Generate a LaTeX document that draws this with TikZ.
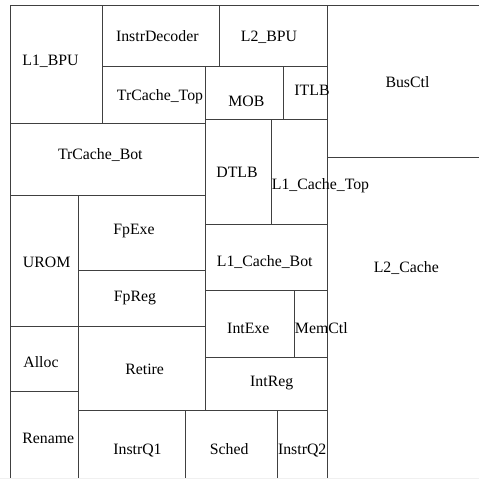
\documentclass[tikz,border=0pt]{standalone}
\usepackage{fontspec}
\setmainfont{Liberation Serif}
\begin{document}
\begin{tikzpicture}[x=1pt,y=-1pt,
  blk/.style={draw=black!75,line width=0.9pt},
  lbl/.style={anchor=base,inner sep=0pt,font=\fontsize{15.8}{18}\selectfont}]
\useasboundingbox (0,0) rectangle (479,479);
\begin{scope}
\clip (0,0) rectangle (479,479);
% blocks
\draw[blk] (10.5,5.5) rectangle (102.7,123);   % L1_BPU
\draw[blk] (102.7,5.5) rectangle (219,66);     % InstrDecoder
\draw[blk] (219,5.5) rectangle (327.7,66);     % L2_BPU
\draw[blk] (102.7,66) rectangle (205.5,123);   % TrCache_Top
\draw[blk] (205.5,66) rectangle (283.3,119.3); % MOB
\draw[blk] (283.3,66) rectangle (327.7,119.3); % ITLB
\draw[blk] (327.7,5.5) rectangle (482,157.3);  % BusCtl
\draw[blk] (10.5,123) rectangle (205.5,195);   % TrCache_Bot
\draw[blk] (205.5,119.3) rectangle (271,224);  % DTLB
\draw[blk] (271,119.3) rectangle (327.7,224);  % L1_Cache_Top
\draw[blk] (327.7,157.3) rectangle (482,482);  % L2_Cache
\draw[blk] (10.5,195) rectangle (78,326);      % UROM
\draw[blk] (78,195) rectangle (205.5,270);     % FpExe
\draw[blk] (78,270) rectangle (205.5,326);     % FpReg
\draw[blk] (205.5,224) rectangle (327.7,290);  % L1_Cache_Bot
\draw[blk] (205.5,290) rectangle (294.3,357.5);% IntExe
\draw[blk] (294.3,290) rectangle (327.7,357.5);% MemCtl
\draw[blk] (205.5,357.5) rectangle (327.7,410);% IntReg
\draw[blk] (10.5,326) rectangle (78,391.7);    % Alloc
\draw[blk] (78,326) rectangle (205.5,410);     % Retire
\draw[blk] (10.5,391.7) rectangle (78,482);    % Rename
\draw[blk] (78,410) rectangle (185.7,482);     % InstrQ1
\draw[blk] (185.7,410) rectangle (277.3,482);  % Sched
\draw[blk] (277.3,410) rectangle (327.7,482);  % InstrQ2
\draw[black!6,line width=1pt] (0,478.3) -- (479,478.3);
\end{scope}
% labels
\node[lbl] (l1bpu) at (50.5,65) {L1\_BPU};
\node[lbl] (idec) at (157.3,41.7) {InstrDecoder};
\node[lbl] (trtop) at (160,100) {TrCache\_Top};
\node[lbl] (trbot) at (100.3,159.3) {TrCache\_Bot};
\node[lbl] (fpexe) at (134,234) {FpExe};
\node[lbl] (l2bpu) at (269,41.7) {L2\_BPU};
\node[lbl] (mob) at (246.3,106.7) {MOB};
\node[lbl] (itlb) at (312,95) {ITLB};
\node[lbl] (busctl) at (407.5,87.7) {BusCtl};
\node[lbl] (dtlb) at (237,177.7) {DTLB};
\node[lbl] (l1top) at (320.5,189.3) {L1\_Cache\_Top};
\node[lbl] (urom) at (46.7,267.7) {UROM};
\node[lbl] (fpreg) at (135,301.7) {FpReg};
\node[lbl] (alloc) at (41,367.7) {Alloc};
\node[lbl] (retire) at (144.7,374) {Retire};
\node[lbl] (rename) at (48.3,443.3) {Rename};
\node[lbl] (iq1) at (137.5,454.3) {InstrQ1};
\node[lbl] (sched) at (229.2,454.3) {Sched};
\node[lbl] (iq2) at (302.2,454.3) {InstrQ2};
\node[lbl] (l1bot) at (264.7,266) {L1\_Cache\_Bot};
\node[lbl] (l2c) at (406.3,272.3) {L2\_Cache};
\node[lbl] (intexe) at (248.3,333.3) {IntExe};
\node[lbl] (memctl) at (321.3,333.3) {MemCtl};
\node[lbl] (intreg) at (271.7,386) {IntReg};
\end{tikzpicture}
\end{document}
